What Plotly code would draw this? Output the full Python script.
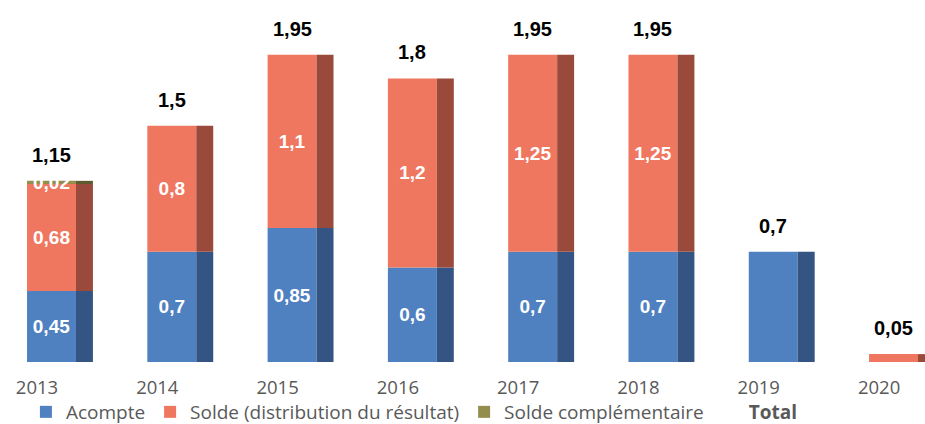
import plotly.graph_objects as go

years = ["2013", "2014", "2015", "2016", "2017", "2018", "2019", "2020"]
acompte = [0.45, 0.7, 0.85, 0.6, 0.7, 0.7, 0.7, 0.0]
solde = [0.68, 0.8, 1.1, 1.2, 1.25, 1.25, 0.0, 0.05]
complementaire = [0.02, 0, 0, 0, 0, 0, 0, 0]
totals = [1.15, 1.5, 1.95, 1.8, 1.95, 1.95, 0.7, 0.05]
acompte_labels = ["0,45", "0,7", "0,85", "0,6", "0,7", "0,7", "", ""]
solde_labels = ["0,68", "0,8", "1,1", "1,2", "1,25", "1,25", "", ""]
compl_labels = ["0,02", "", "", "", "", "", "", ""]
total_labels = ["1,15", "1,5", "1,95", "1,8", "1,95", "1,95", "0,7", "0,05"]

x = list(range(len(years)))
base_solde = acompte
base_compl = [a + s for a, s in zip(acompte, solde)]

FRONT_OFF, FRONT_W = -0.083, 0.407
SIDE_OFF, SIDE_W = FRONT_OFF + FRONT_W, 0.141

C_AC, C_AC_D = "#4F81C1", "#345584"
C_SO, C_SO_D = "#F0775F", "#9A4A3B"
C_CO, C_CO_D = "#948E4E", "#5F5B30"

H = 440  # figure is slightly taller than the window; bottom strip is empty

fig = go.Figure()

def add_series(name, vals, base, col, col_dark, labels):
    fig.add_trace(go.Bar(
        x=x, y=vals, base=base, name=name, marker=dict(color=col, line=dict(width=0)),
        offset=FRONT_OFF, width=FRONT_W, text=labels, textposition="inside",
        insidetextanchor="middle", constraintext="none", textangle=0,
        textfont=dict(family="Liberation Sans", size=19, color="white", weight="bold"),
        hoverinfo="skip"))
    fig.add_trace(go.Bar(
        x=x, y=vals, base=base, name=name, showlegend=False,
        marker=dict(color=col_dark, line=dict(width=0)),
        offset=SIDE_OFF, width=SIDE_W, hoverinfo="skip"))

add_series("Acompte", acompte, [0] * len(x), C_AC, C_AC_D, acompte_labels)
add_series("Solde (distribution du résultat)", solde, base_solde, C_SO, C_SO_D, solde_labels)
add_series("Solde complémentaire", complementaire, base_compl, C_CO, C_CO_D, compl_labels)

fig.add_trace(go.Bar(
    x=x, y=totals, name="<b>Total</b>", marker=dict(color="rgba(0,0,0,0)", line=dict(width=0)),
    offset=FRONT_OFF, width=FRONT_W, hoverinfo="skip"))

for xi, t, lab in zip(x, totals, total_labels):
    fig.add_annotation(
        x=xi + FRONT_OFF + FRONT_W / 2, y=t, text=lab, showarrow=False, yshift=26,
        font=dict(family="Liberation Sans", size=20, color="black", weight="bold"))

fig.update_layout(
    width=925, height=H, barmode="overlay",
    margin=dict(l=0, r=0, t=0, b=0),
    paper_bgcolor="white", plot_bgcolor="white",
    showlegend=True,
    legend=dict(orientation="h", x=0.448, xanchor="center", y=(H - 412) / H, yanchor="middle",
                bgcolor="rgba(0,0,0,0)",
                font=dict(family="Open Sans", size=19, color="#595959"),
                itemclick=False, traceorder="normal"),
)
fig.update_xaxes(range=[-0.3076, 7.382], tickvals=x, ticktext=years, showgrid=False,
                 zeroline=False, showline=False, ticks="outside", ticklen=9,
                 tickcolor="rgba(0,0,0,0)", automargin=False,
                 tickfont=dict(family="Open Sans", size=18.5, color="#595959"))
fig.update_yaxes(range=[0, 2.298], domain=[(H - 362) / H, 1], visible=False,
                 showgrid=False, zeroline=False)

fig.write_html("out.html", config={"displayModeBar": False},
               post_script="document.body.style.margin='0';document.body.style.overflow='hidden';")
